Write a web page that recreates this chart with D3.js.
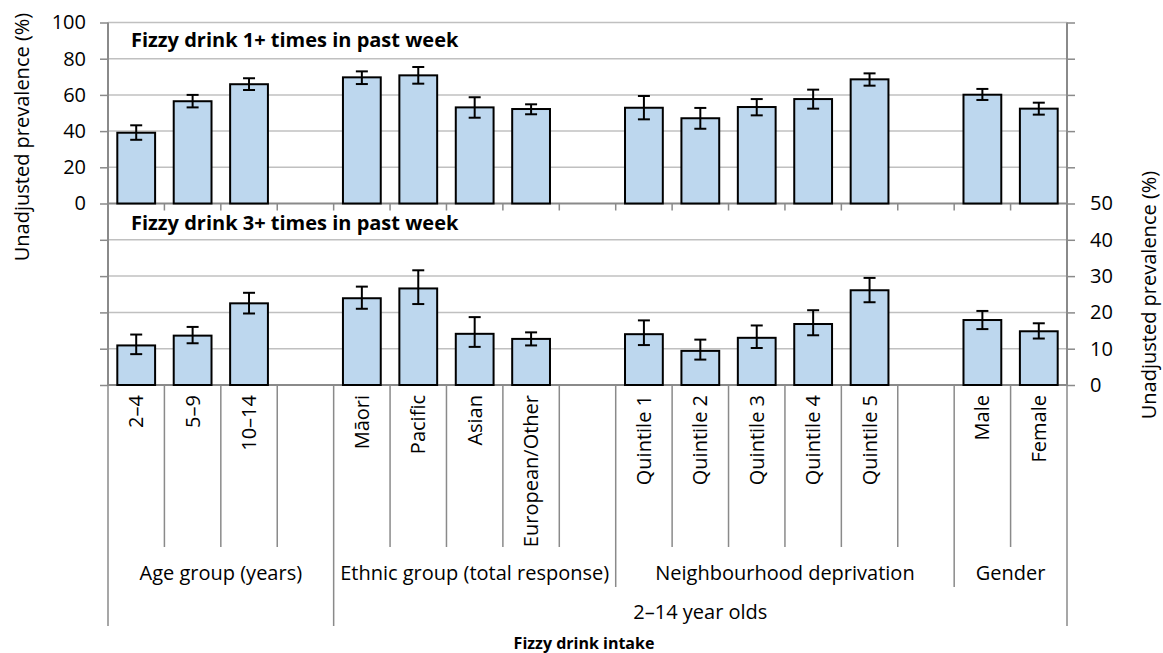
<!DOCTYPE html>
<html>
<head>
<meta charset="utf-8">
<script src="https://cdn.jsdelivr.net/npm/d3@7"></script>
<style>
  html, body { margin: 0; padding: 0; background: #fff; }
  svg { display: block; font-family: "Open Sans", "Noto Sans", sans-serif; }
</style>
</head>
<body>
<svg id="chart" width="1163" height="653"></svg>
<script>
// ---------- data ----------
const categories = ["2–4", "5–9", "10–14", "", "Māori", "Pacific", "Asian", "European/Other", "",
  "Quintile 1", "Quintile 2", "Quintile 3", "Quintile 4", "Quintile 5", "", "Male", "Female"];

// Fizzy drink 1+ times in past week (%)
const value1 = [39.1, 56.5, 65.9, null, 69.7, 70.8, 53.1, 52.2, null, 52.9, 47.1, 53.3, 57.7, 68.6, null, 60.1, 52.4];
const low1   = [35.2, 53.1, 62.7, null, 66.0, 66.2, 47.4, 49.3, null, 46.5, 41.3, 48.7, 52.4, 65.1, null, 57.2, 49.1];
const high1  = [43.2, 60.0, 69.2, null, 73.0, 75.4, 58.7, 54.8, null, 59.4, 52.8, 57.7, 62.9, 71.9, null, 63.3, 55.7];

// Fizzy drink 3+ times in past week (%)
const value3 = [10.9, 13.6, 22.5, null, 23.9, 26.6, 14.1, 12.7, null, 14.0, 9.4, 13.0, 16.8, 26.1, null, 17.9, 14.8];
const low3   = [8.5, 11.5, 19.7, null, 21.0, 22.3, 10.5, 10.9, null, 11.0, 7.0, 10.2, 13.7, 22.8, null, 15.4, 12.8];
const high3  = [13.9, 16.0, 25.4, null, 27.1, 31.6, 18.7, 14.5, null, 17.8, 12.5, 16.4, 20.6, 29.5, null, 20.4, 17.0];

const groupLabels = ["Age group (years)", "Ethnic group (total response)", "Neighbourhood deprivation", "Gender"];
const groupStarts = [0, 4, 9, 15];
const groupEnds   = [4, 9, 15, 17];
const outerLabels = ["", "2–14 year olds"];
const outerStarts = [0, 4];
const outerEnds   = [4, 17];

const topTicks = [0, 20, 40, 60, 80, 100];
const botTicks = [0, 10, 20, 30, 40, 50];

const panelTitles = ["Fizzy drink 1+ times in past week", "Fizzy drink 3+ times in past week"];
const yTitle = "Unadjusted prevalence (%)";
const xTitle = "Fizzy drink intake";

// ---------- layout ----------
const svg = d3.select("#chart");
const left = 108, right = 1067;
const topY = 22.5, midY = 203.5, botY = 385;
const gridColor = "#c0c0c0", axisColor = "#8a8a8a";
const fontSize = 20;

const x = d3.scaleBand().domain(d3.range(categories.length)).range([left, right])
  .paddingInner(0.33).paddingOuter(0.165);
const step = x.step();
const bx = i => left + i * step; // slot boundary
const yTop = d3.scaleLinear().domain([0, 100]).range([midY, topY]);
const yBot = d3.scaleLinear().domain([0, 50]).range([botY, midY]);

// gridlines
const grid = svg.append("g");
topTicks.filter(t => t > 0).forEach(t => {
  grid.append("line").attr("x1", left).attr("x2", right).attr("y1", yTop(t)).attr("y2", yTop(t))
    .attr("stroke", gridColor).attr("stroke-width", 1.5);
});
botTicks.filter(t => t > 0 && t < 50).forEach(t => {
  grid.append("line").attr("x1", left).attr("x2", right).attr("y1", yBot(t)).attr("y2", yBot(t))
    .attr("stroke", gridColor).attr("stroke-width", 1.5);
});

// left axis (top panel labelled)
const axL = svg.append("g").attr("transform", `translate(${left},0)`)
  .call(d3.axisLeft(yTop).tickValues(topTicks).tickSize(8).tickPadding(14).tickFormat(d3.format("d")));
const axL2 = svg.append("g").attr("transform", `translate(${left},0)`)
  .call(d3.axisLeft(yBot).tickValues(botTicks.filter(t => t < 50)).tickSize(8).tickFormat(""));
// right axis (bottom panel labelled)
const axR = svg.append("g").attr("transform", `translate(${right},0)`)
  .call(d3.axisRight(yBot).tickValues(botTicks).tickSize(8).tickPadding(15).tickFormat(d3.format("d")));
const axR2 = svg.append("g").attr("transform", `translate(${right},0)`)
  .call(d3.axisRight(yTop).tickValues(topTicks.filter(t => t > 0)).tickSize(8).tickFormat(""));
[axL, axL2, axR, axR2].forEach(g => {
  g.select(".domain").remove();
  g.selectAll(".tick line").attr("stroke", axisColor).attr("stroke-width", 1.5);
  g.selectAll(".tick text").attr("font-size", fontSize).attr("fill", "#000")
    .attr("font-family", "'Open Sans', sans-serif");
});
svg.append("line").attr("x1", left).attr("x2", left).attr("y1", topY).attr("y2", botY)
  .attr("stroke", axisColor).attr("stroke-width", 2);
svg.append("line").attr("x1", right).attr("x2", right).attr("y1", topY).attr("y2", botY)
  .attr("stroke", axisColor).attr("stroke-width", 2);

// horizontal zero lines
svg.append("line").attr("x1", left).attr("x2", right).attr("y1", midY).attr("y2", midY)
  .attr("stroke", axisColor).attr("stroke-width", 2);
svg.append("line").attr("x1", left).attr("x2", right).attr("y1", botY).attr("y2", botY)
  .attr("stroke", axisColor).attr("stroke-width", 2);

// top panel category ticks
d3.range(categories.length + 1).forEach(i => {
  svg.append("line").attr("x1", bx(i)).attr("x2", bx(i)).attr("y1", midY).attr("y2", midY + 7)
    .attr("stroke", axisColor).attr("stroke-width", 1.5);
});

// bars + error bars
function drawPanel(vals, lo, hi, y) {
  const g = svg.append("g");
  vals.forEach((v, i) => {
    if (v == null) return;
    g.append("rect").attr("x", x(i)).attr("width", x.bandwidth())
      .attr("y", y(v)).attr("height", y(0) - y(v))
      .attr("fill", "#bdd7ee").attr("stroke", "#000").attr("stroke-width", 2);
    const cx = x(i) + x.bandwidth() / 2;
    g.append("line").attr("x1", cx).attr("x2", cx).attr("y1", y(hi[i])).attr("y2", y(lo[i]))
      .attr("stroke", "#000").attr("stroke-width", 2);
    [hi[i], lo[i]].forEach(e => {
      g.append("line").attr("x1", cx - 6).attr("x2", cx + 6).attr("y1", y(e)).attr("y2", y(e))
        .attr("stroke", "#000").attr("stroke-width", 2);
    });
  });
}
drawPanel(value1, low1, high1, yTop);
drawPanel(value3, low3, high3, yBot);

// panel titles
svg.append("text").attr("x", 131).attr("y", 40).attr("dy", "0.35em")
  .attr("font-size", 20).attr("font-weight", "bold").text(panelTitles[0]);
svg.append("text").attr("x", 131).attr("y", 223).attr("dy", "0.35em")
  .attr("font-size", 20).attr("font-weight", "bold").text(panelTitles[1]);

// multi-level category axis
const outerB = new Set(outerStarts.concat(outerEnds));
const groupB = new Set(groupStarts.concat(groupEnds));
d3.range(categories.length + 1).forEach(i => {
  const y2 = outerB.has(i) ? 626 : (groupB.has(i) ? 587 : 547);
  svg.append("line").attr("x1", bx(i)).attr("x2", bx(i)).attr("y1", botY).attr("y2", y2)
    .attr("stroke", axisColor).attr("stroke-width", 1.5);
});
categories.forEach((c, i) => {
  if (!c) return;
  const cx = x(i) + x.bandwidth() / 2;
  svg.append("text").attr("transform", `translate(${cx},395) rotate(-90)`)
    .attr("text-anchor", "end").attr("dy", "0.35em").attr("font-size", fontSize).text(c);
});
groupLabels.forEach((g, k) => {
  svg.append("text").attr("x", (bx(groupStarts[k]) + bx(groupEnds[k])) / 2).attr("y", 573)
    .attr("dy", "0.35em").attr("text-anchor", "middle").attr("font-size", fontSize).text(g);
});
outerLabels.forEach((g, k) => {
  if (!g) return;
  svg.append("text").attr("x", (bx(outerStarts[k]) + bx(outerEnds[k])) / 2).attr("y", 612)
    .attr("dy", "0.35em").attr("text-anchor", "middle").attr("font-size", fontSize).text(g);
});

// axis titles
svg.append("text").attr("transform", "translate(22,137) rotate(-90)")
  .attr("text-anchor", "middle").attr("dy", "0.35em").attr("font-size", fontSize).text(yTitle);
svg.append("text").attr("transform", "translate(1149,295) rotate(-90)")
  .attr("text-anchor", "middle").attr("dy", "0.35em").attr("font-size", fontSize).text(yTitle);
svg.append("text").attr("x", 584).attr("y", 643).attr("dy", "0.35em")
  .attr("text-anchor", "middle").attr("font-size", 16).attr("font-weight", "bold").text(xTitle);
</script>
</body>
</html>
